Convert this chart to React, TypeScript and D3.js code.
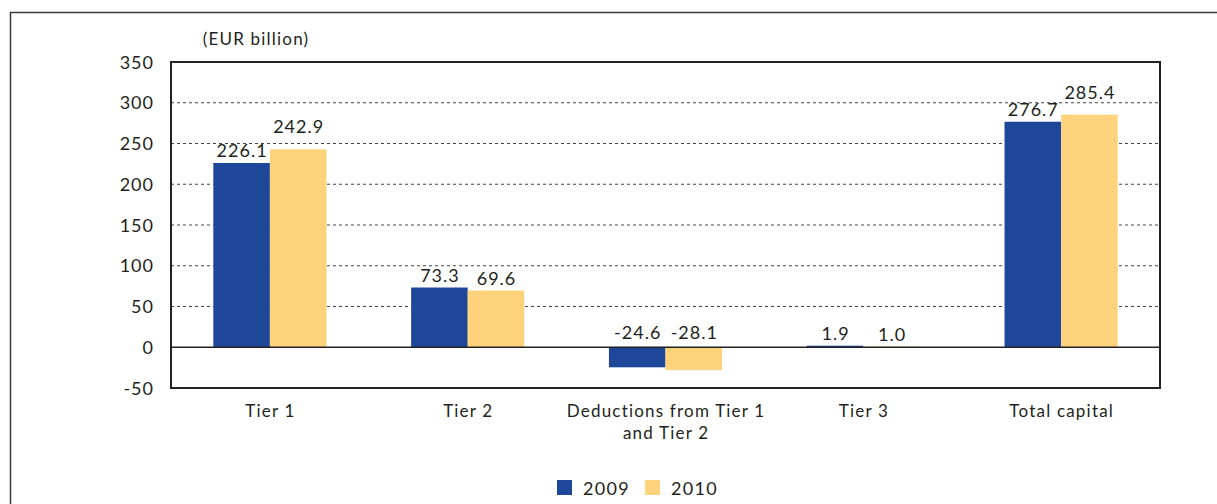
import React from "react";
import * as d3 from "d3";

const categories = ["Tier 1", "Tier 2", "Deductions from Tier 1\nand Tier 2", "Tier 3", "Total capital"];
const series = ["2009", "2010"];
const values2009 = [226.1, 73.3, -24.6, 1.9, 276.7];
const values2010 = [242.9, 69.6, -28.1, 1.0, 285.4];
const yTicks = [-50, 0, 50, 100, 150, 200, 250, 300, 350];
const unitLabel = "(EUR billion)";

const colors: Record<string, string> = { "2009": "#1e4699", "2010": "#fed37b" };
const FONT = "Lato, 'Open Sans', sans-serif";
const TXT = "#231f20";

export default function App() {
  const W = 1217, H = 504;
  const left = 171, right = 1160, top = 62, bottom = 388;
  const y = d3.scaleLinear().domain([-50, 350]).range([bottom, top]);
  const x0 = d3.scaleBand<string>().domain(categories).range([left, right]).padding(0);
  const groupW = x0.bandwidth() * 0.572;
  const x1 = d3.scaleBand<string>().domain(series).range([0, groupW]).padding(0);
  const data = [values2009, values2010];

  const labelY = (s: string, v: number) => {
    if (v <= 0) return y(0) - 8;
    const lift = s === "2010" && v > 200 ? 16 : 5.5;
    return y(v) - lift;
  };

  return (
    <svg width={W} height={H} style={{ position: "absolute", left: 0, top: 0, background: "#fff" }}>
      <rect x={10.5} y={12.5} width={1300} height={600} fill="none" stroke="#3a3a3a" strokeWidth={1.5} />
      <text x={256} y={45} textAnchor="middle" fontFamily={FONT} fontSize={17} letterSpacing={1.2} fill={TXT}>{unitLabel}</text>
      {yTicks.filter(t => t > 0 && t < 350).map(t => (
        <line key={t} x1={left} x2={right} y1={y(t)} y2={y(t)} stroke="#444" strokeWidth={1} strokeDasharray="3,3" />
      ))}
      {yTicks.map(t => (
        <text key={t} x={154} y={y(t) + 6.5} textAnchor="end" fontFamily={FONT} fontSize={18} letterSpacing={1} fill={TXT}>{t}</text>
      ))}
      {categories.map((c, ci) => {
        const gx = (x0(c) as number) + (x0.bandwidth() - groupW) / 2;
        return (
          <g key={c}>
            {series.map((s, si) => {
              const v = data[si][ci];
              const bx = gx + (x1(s) as number);
              const y0 = y(Math.max(0, v));
              const h = Math.abs(y(v) - y(0));
              return (
                <g key={s}>
                  <rect x={bx} y={y0} width={x1.bandwidth()} height={h} fill={colors[s]} />
                  <text x={bx + x1.bandwidth() / 2 + 0.5} y={labelY(s, v)} textAnchor="middle" fontFamily={FONT} fontSize={18} letterSpacing={1} fill={TXT}>{v.toFixed(1)}</text>
                </g>
              );
            })}
            {c.split("\n").map((line, li) => (
              <text key={li} x={(x0(c) as number) + x0.bandwidth() / 2 + 0.6} y={417 + li * 22} textAnchor="middle" fontFamily={FONT} fontSize={17} letterSpacing={1.2} fill={TXT}>{line}</text>
            ))}
          </g>
        );
      })}
      <line x1={left} x2={right} y1={y(0)} y2={y(0)} stroke="#222" strokeWidth={1.5} />
      <rect x={left} y={top} width={right - left} height={bottom - top} fill="none" stroke="#222" strokeWidth={2} />
      {series.map((s, i) => (
        <g key={s} transform={`translate(${557 + i * 88},480)`}>
          <rect x={0} y={0} width={15} height={15} fill={colors[s]} />
          <text x={26} y={14.5} fontFamily={FONT} fontSize={18} letterSpacing={1.3} fill={TXT}>{s}</text>
        </g>
      ))}
    </svg>
  );
}
